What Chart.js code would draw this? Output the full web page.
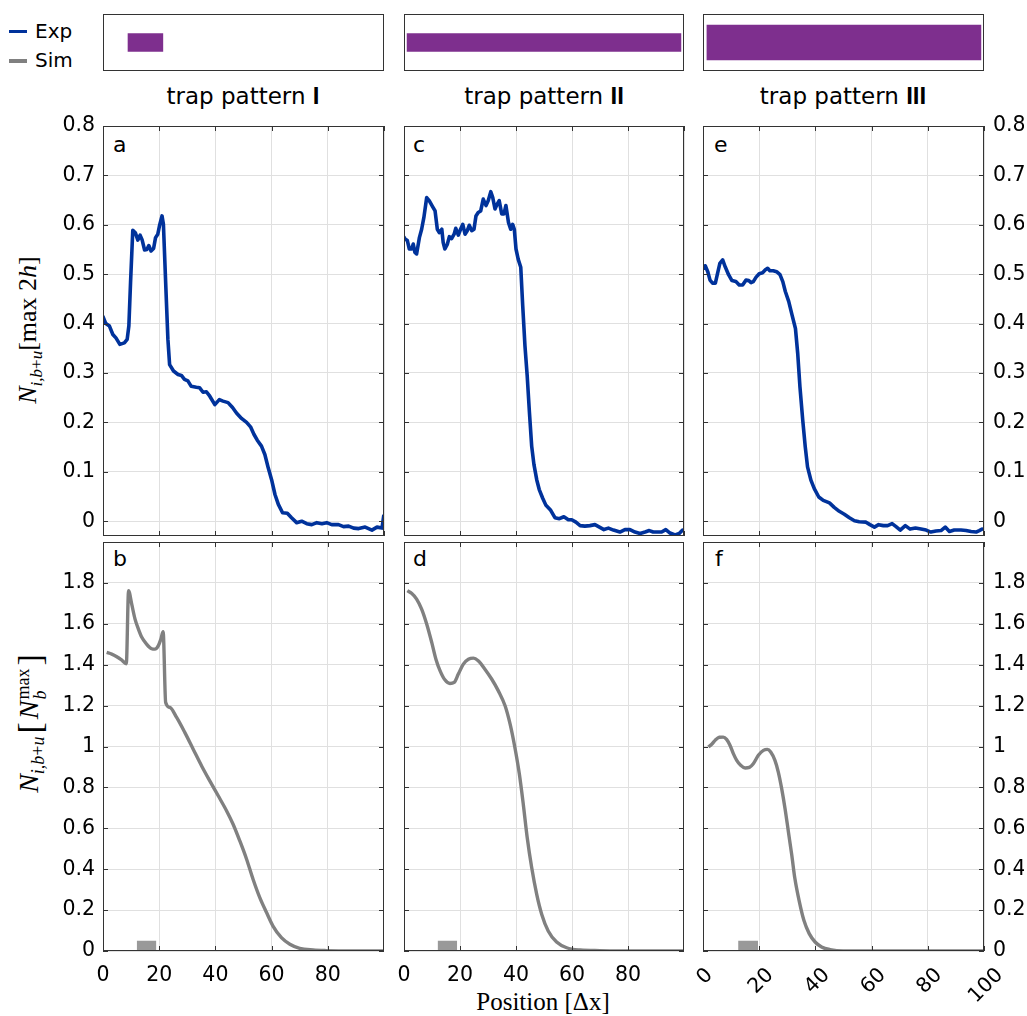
<!DOCTYPE html>
<html><head><meta charset="utf-8">
<script src="https://cdn.jsdelivr.net/npm/chart.js@4.4.1/dist/chart.umd.min.js"></script>
<style>
html,body{margin:0;padding:0;background:#fff;}
body{width:1027px;height:1016px;position:relative;overflow:hidden;font-family:"DejaVu Sans",sans-serif;color:#000;}
canvas{position:absolute;left:0;top:0;}
.t{position:absolute;white-space:nowrap;}
.ttl{position:absolute;width:300px;text-align:center;font-size:23px;line-height:30px;top:81px;}
.num{font-family:"Liberation Sans",Arial,sans-serif;font-weight:bold;font-size:24px;}
.pl{position:absolute;font-size:22px;line-height:22px;}
.leg{position:absolute;font-size:20px;line-height:24px;}
.ser{font-family:"Liberation Serif","DejaVu Serif",serif;}
.ytl{position:absolute;white-space:nowrap;transform:translate(-50%,-50%) rotate(-90deg);font-size:26px;}
.ytl sub{font-size:17px;}
.br{font-size:34px;margin:0 3px;vertical-align:-3px;}
</style></head><body>
<div class="leg" style="left:9px;top:30px;width:18px;height:3px;background:rgb(0,50,155);"></div>
<div class="leg" style="left:35px;top:19px;">Exp</div>
<div class="leg" style="left:9px;top:59px;width:18px;height:4px;background:rgb(128,128,128);"></div>
<div class="leg" style="left:35px;top:48px;">Sim</div>
<div class="ttl" style="left:93px;">trap pattern <span class="num">I</span></div>
<div class="ttl" style="left:394px;">trap pattern <span class="num">II</span></div>
<div class="ttl" style="left:693px;">trap pattern <span class="num">III</span></div>
<div class="pl" style="left:113px;top:134px;">a</div>
<div class="pl" style="left:113px;top:548px;">b</div>
<div class="pl" style="left:413px;top:134px;">c</div>
<div class="pl" style="left:413px;top:548px;">d</div>
<div class="pl" style="left:714px;top:134px;">e</div>
<div class="pl" style="left:715px;top:548px;">f</div>
<div class="ytl ser" style="left:30px;top:330px;"><i>N</i><sub><i>i,b</i>+<i>u</i></sub>[max 2<i>h</i>]</div>
<div class="ytl ser" style="left:30px;top:722px;font-size:28px;"><i>N</i><sub style="font-size:18px;"><i>i,b</i>+<i>u</i></sub><span class="br">[</span><i>N</i><span style="display:inline-block;vertical-align:middle;line-height:17px;font-size:18px;text-align:left;margin-left:1px;"><span style="display:block;">max</span><span style="display:block;"><i>b</i></span></span><span class="br">]</span></div>
<div class="t ser" style="left:543px;top:988px;transform:translateX(-50%);font-size:25px;line-height:28px;">Position [Δx]</div>
<script>
// ---------- data ----------
const xTicksAll = [0, 20, 40, 60, 80, 100];
const xTicksLabeled = [0, 20, 40, 60, 80];
const yTicksExp = [0, 0.1, 0.2, 0.3, 0.4, 0.5, 0.6, 0.7, 0.8];
const yTicksSim = [0, 0.2, 0.4, 0.6, 0.8, 1, 1.2, 1.4, 1.6, 1.8];

const trapStart = [8.9, 1.1, 1.4];
const trapEnd = [21.3, 98.9, 98.9];

const expA = [[0,0.414],[1,0.400],[2.3,0.395],[3.5,0.378],[4.6,0.371],[6,0.358],[7.6,0.361],[8.6,0.368],[9.2,0.395],[9.8,0.483],[10.6,0.589],[11.5,0.584],[12.4,0.569],[13.2,0.579],[13.9,0.570],[14.8,0.549],[15.6,0.550],[16.3,0.558],[17.1,0.547],[18,0.552],[18.7,0.574],[19.5,0.581],[20.1,0.598],[21,0.618],[21.5,0.601],[22.3,0.483],[23.1,0.368],[23.7,0.317],[25.1,0.304],[26.7,0.297],[27.9,0.295],[29,0.287],[30.2,0.284],[31.4,0.273],[33.2,0.271],[34.4,0.270],[35.6,0.261],[36.8,0.262],[38,0.253],[39.8,0.236],[41.4,0.246],[42.7,0.243],[44.5,0.240],[46.1,0.230],[47.5,0.219],[49.3,0.208],[51.1,0.200],[52.5,0.191],[53.7,0.176],[54.9,0.164],[56.4,0.152],[57.6,0.135],[58.8,0.108],[60,0.084],[61.2,0.054],[62.4,0.034],[63.9,0.017],[65.6,0.016],[67.1,0.007],[68.9,-0.003],[70.7,0.000],[72.5,-0.005],[74.3,-0.007],[76.1,-0.003],[77.9,-0.005],[79.6,-0.003],[81.4,-0.007],[83.8,-0.007],[85.6,-0.011],[87.4,-0.010],[89.2,-0.014],[91,-0.015],[93.3,-0.012],[95.7,-0.018],[97.5,-0.012],[99.3,-0.014],[99.9,0.011]];

const expC = [[0,0.575],[0.4,0.571],[1.2,0.568],[1.9,0.551],[2.7,0.551],[3.3,0.561],[3.9,0.544],[4.5,0.541],[5.5,0.574],[6.3,0.591],[7.1,0.615],[8.1,0.655],[9,0.649],[10.2,0.637],[11.1,0.628],[11.9,0.591],[12.6,0.584],[13.5,0.591],[14,0.564],[14.6,0.551],[15.5,0.561],[16.2,0.576],[17,0.572],[17.9,0.581],[18.5,0.593],[19.4,0.579],[20.2,0.591],[21,0.601],[21.8,0.581],[22.6,0.588],[23.3,0.599],[24.2,0.588],[25,0.591],[25.7,0.618],[26.5,0.625],[27.4,0.628],[28.3,0.652],[29.3,0.639],[30.1,0.649],[31,0.667],[31.7,0.655],[32.5,0.632],[33.3,0.642],[34,0.649],[34.9,0.622],[35.7,0.622],[36.4,0.639],[37.3,0.605],[38.1,0.591],[38.8,0.601],[39.4,0.591],[40,0.551],[40.8,0.530],[41.7,0.514],[42.4,0.436],[43.2,0.355],[44,0.294],[44.8,0.220],[45.6,0.152],[46.4,0.115],[47.4,0.084],[48.3,0.064],[49.5,0.047],[50.7,0.032],[52.4,0.022],[53.9,0.007],[55.5,0.005],[57.1,0.009],[58.7,0.003],[59.9,0.003],[61.4,-0.002],[62.9,-0.009],[64.6,-0.010],[66.4,-0.009],[68.2,-0.007],[69.8,-0.012],[71.4,-0.017],[73,-0.014],[74.8,-0.018],[77.1,-0.022],[78.9,-0.017],[80.7,-0.017],[82.5,-0.022],[84.3,-0.025],[86.1,-0.022],[87.6,-0.019],[89,-0.022],[90.8,-0.022],[92,-0.022],[93.5,-0.017],[95,-0.024],[96.8,-0.028],[98.3,-0.025],[99.5,-0.018]];

const expE = [[0.5,0.512],[0.8,0.517],[1.7,0.505],[2.5,0.488],[3.4,0.482],[4.4,0.482],[5.2,0.502],[6,0.522],[7,0.529],[7.9,0.515],[9.1,0.499],[10.3,0.487],[11.7,0.485],[12.9,0.478],[14.1,0.478],[15.3,0.488],[16.3,0.487],[17.1,0.483],[17.9,0.485],[18.9,0.494],[20,0.501],[21.2,0.503],[22.2,0.509],[23,0.512],[23.8,0.507],[25,0.507],[26.2,0.505],[27.4,0.499],[28.4,0.485],[29.3,0.465],[30.5,0.445],[31.7,0.417],[32.9,0.390],[33.7,0.340],[34.5,0.272],[35.5,0.204],[36.4,0.150],[37.2,0.110],[38.4,0.083],[39.6,0.066],[41.2,0.049],[42.8,0.042],[45,0.037],[46.7,0.028],[48.5,0.020],[50.3,0.014],[52.1,0.007],[53.9,0.001],[55.6,-0.001],[58,-0.002],[59.4,-0.007],[61,-0.012],[62.5,-0.007],[64.2,-0.009],[65.7,-0.009],[67.3,-0.005],[68.7,-0.011],[70.2,-0.018],[72,-0.009],[73.7,-0.016],[75.6,-0.014],[77.6,-0.016],[79.4,-0.018],[81.1,-0.022],[82.9,-0.020],[84.7,-0.019],[86.2,-0.012],[87.7,-0.021],[89.4,-0.018],[91.8,-0.018],[93.6,-0.019],[95.4,-0.021],[97.2,-0.022],[98.3,-0.019],[99.3,-0.016]];

const simB = [[1.3,1.460],[3.1,1.452],[4.9,1.439],[6.6,1.423],[8.3,1.405],[9.1,1.762],[10.2,1.697],[11.4,1.623],[12.6,1.574],[13.7,1.537],[15.5,1.501],[17.3,1.478],[18.5,1.476],[19.7,1.493],[20.6,1.525],[21.4,1.561],[22.3,1.215],[23.8,1.191],[26.2,1.142],[29.1,1.069],[32.1,0.987],[35.1,0.905],[38,0.832],[41,0.759],[44,0.685],[46.3,0.620],[48.7,0.538],[51.1,0.449],[53.4,0.351],[55.8,0.261],[58.2,0.188],[60.5,0.122],[63.5,0.065],[66.5,0.033],[70,0.013],[74.8,0.005],[79.5,0.002],[87.8,0.0],[99.8,0.0]];

const simD = [[1.2,1.762],[2.7,1.749],[4.5,1.721],[6.3,1.672],[8.1,1.599],[9.9,1.509],[11.4,1.427],[12.9,1.370],[14.6,1.326],[16.4,1.308],[17.9,1.313],[19.4,1.354],[21.2,1.403],[23,1.427],[24.8,1.432],[26.5,1.419],[28.9,1.378],[31.3,1.330],[33.7,1.272],[36.1,1.199],[37.9,1.109],[39.6,0.995],[41.2,0.865],[42.6,0.718],[44,0.555],[45.6,0.408],[47.4,0.277],[49.2,0.179],[51.5,0.098],[54.5,0.044],[58.1,0.016],[62.9,0.005],[70,0.002],[81.9,0.0],[99.8,0.0]];

const simF = [[1.9,0.998],[3.1,1.011],[4.3,1.030],[5.8,1.045],[7.2,1.046],[8.4,1.035],[9.6,1.006],[10.8,0.965],[12,0.932],[13.4,0.908],[15,0.895],[16.5,0.898],[17.9,0.916],[19.7,0.957],[21.5,0.981],[22.9,0.986],[24.1,0.973],[25.6,0.932],[26.8,0.875],[28,0.794],[29.2,0.696],[30.4,0.582],[31.6,0.468],[32.7,0.354],[34.3,0.240],[35.9,0.150],[37.8,0.085],[39.9,0.044],[42.2,0.020],[45.2,0.007],[49.9,0.0],[60.6,0.0],[99.8,0.0]];

const markerB = [[12,0],[12,0.05],[19,0.05],[19,0]];
const markerD = [[12,0],[12,0.05],[19,0.05],[19,0]];
const markerF = [[12.5,0],[12.5,0.05],[19.6,0.05],[19.6,0]];

// ---------- styles ----------
const W = 1027, H = 1016;
const BLUE = 'rgb(0,50,155)', GRAY = 'rgb(128,128,128)', PURPLE = 'rgb(126,47,142)', MARK = 'rgb(153,153,153)';
const GRID = '#e0e0e0', FRAME = '#333';
const TICKFONT = {family: '"DejaVu Sans", sans-serif', size: 20.5};
const fmt = v => String(Math.round(v * 100) / 100);
const Y_AXIS_W = 60, Y_AXIS_W_R = 40, X_AXIS_H = 45;

const framePlugin = {
  id: 'frame',
  afterDraw(chart, args, opts) {
    const ctx = chart.ctx, a = chart.chartArea;
    ctx.save();
    ctx.strokeStyle = FRAME; ctx.lineWidth = 1;
    if (opts.ticks) {
      const xs = chart.scales.x, ys = chart.scales.y;
      ctx.beginPath();
      xs.ticks.forEach(t => {
        const p = Math.round(xs.getPixelForValue(t.value)) + 0.5;
        ctx.moveTo(p, a.bottom); ctx.lineTo(p, a.bottom - 5);
        ctx.moveTo(p, a.top); ctx.lineTo(p, a.top + 5);
      });
      ys.ticks.forEach(t => {
        const p = Math.round(ys.getPixelForValue(t.value)) + 0.5;
        ctx.moveTo(a.left, p); ctx.lineTo(a.left + 5, p);
        ctx.moveTo(a.right, p); ctx.lineTo(a.right - 5, p);
      });
      ctx.stroke();
    }
    ctx.strokeRect(Math.round(a.left) + 0.5, Math.round(a.top) + 0.5, Math.round(a.width) - 1, Math.round(a.height) - 1);
    ctx.restore();
  }
};

const rotLabelPlugin = {
  id: 'rotLabels',
  afterDraw(chart, args, opts) {
    if (!opts.on) return;
    const ctx = chart.ctx, a = chart.chartArea, xs = chart.scales.x;
    ctx.save();
    ctx.font = TICKFONT.size + 'px ' + TICKFONT.family;
    ctx.fillStyle = '#000'; ctx.textAlign = 'center'; ctx.textBaseline = 'middle';
    xs.ticks.forEach(t => {
      const lab = fmt(t.value);
      const w = ctx.measureText(lab).width, h = 14;
      const cx = xs.getPixelForValue(t.value) + 2;
      const cy = a.bottom + 16 + (w + h) / (2 * Math.SQRT2);
      ctx.save(); ctx.translate(cx, cy); ctx.rotate(-Math.PI / 4);
      ctx.fillText(lab, 0, 0); ctx.restore();
    });
    ctx.restore();
  }
};

function makeCanvas() {
  const c = document.createElement('canvas');
  c.width = W; c.height = H;
  c.style.width = W + 'px'; c.style.height = H + 'px';
  document.body.appendChild(c);
  return c;
}

function panel(rect, datasets, cfg) {
  const c = makeCanvas();
  const yW = cfg.yLabels ? (cfg.yPos === 'right' ? Y_AXIS_W_R : Y_AXIS_W) : 0;
  const xH = cfg.xLabels ? X_AXIS_H : 0;
  const pad = {
    left: rect.l - (cfg.yPos === 'left' ? yW : 0),
    right: W - rect.r - (cfg.yPos === 'right' ? yW : 0),
    top: rect.t,
    bottom: H - rect.b - xH
  };
  new Chart(c, {
    type: 'line',
    data: {datasets},
    plugins: [framePlugin, rotLabelPlugin],
    options: {
      responsive: false, animation: false, devicePixelRatio: 1,
      events: [],
      layout: {padding: pad},
      plugins: {legend: {display: false}, tooltip: {enabled: false},
        frame: {ticks: true}, rotLabels: {on: !!cfg.rotX}},
      elements: {point: {radius: 0}},
      scales: {
        x: {type: 'linear', min: 0, max: 100,
          afterBuildTicks: s => { s.ticks = cfg.xTicks.map(v => ({value: v})); },
          afterFit: s => { s.height = xH; },
          grid: {color: GRID, drawTicks: false, lineWidth: 1},
          border: {display: false},
          ticks: {display: !!cfg.xLabels, padding: 12, font: TICKFONT, color: '#000',
            maxRotation: 0, minRotation: 0, autoSkip: false, callback: v => fmt(v)}},
        y: {type: 'linear', position: cfg.yPos, min: cfg.yMin, max: cfg.yMax,
          afterBuildTicks: s => { s.ticks = cfg.yTicks.map(v => ({value: v})); },
          afterFit: s => { s.width = yW; },
          grid: {color: GRID, drawTicks: false, lineWidth: 1},
          border: {display: false},
          ticks: {display: !!cfg.yLabels, padding: cfg.yPos === 'right' ? 9 : 8, font: TICKFONT, color: '#000',
            autoSkip: false, callback: v => fmt(v)}}
      }
    }
  });
}

function expSet(d) {
  return {data: d, borderColor: BLUE, borderWidth: 3.6, tension: 0, fill: false,
    borderJoinStyle: 'round', borderCapStyle: 'round'};
}
function simSet(d) {
  return {data: d, borderColor: GRAY, borderWidth: 3.4, cubicInterpolationMode: 'monotone', fill: false,
    borderJoinStyle: 'round'};
}
function markSet(d) {
  return {data: d, borderWidth: 0, borderColor: MARK, backgroundColor: MARK, fill: 'origin', tension: 0};
}

const colsX = [{l: 103, r: 384}, {l: 404, r: 684}, {l: 703, r: 984}];
const topRow = {t: 126, b: 536}, botRow = {t: 542, b: 951};
const R = (i, row) => ({l: colsX[i].l, r: colsX[i].r, t: row.t, b: row.b});

panel(R(0, topRow), [expSet(expA)], {xTicks: xTicksAll, yTicks: yTicksExp, yMin: -0.03, yMax: 0.8, yPos: 'left', yLabels: true});
panel(R(1, topRow), [expSet(expC)], {xTicks: xTicksAll, yTicks: yTicksExp, yMin: -0.03, yMax: 0.8, yPos: 'left', yLabels: false});
panel(R(2, topRow), [expSet(expE)], {xTicks: xTicksAll, yTicks: yTicksExp, yMin: -0.03, yMax: 0.8, yPos: 'right', yLabels: true});
panel(R(0, botRow), [markSet(markerB), simSet(simB)], {xTicks: xTicksLabeled, xLabels: true, yTicks: yTicksSim, yMin: 0, yMax: 2, yPos: 'left', yLabels: true});
panel(R(1, botRow), [markSet(markerD), simSet(simD)], {xTicks: xTicksLabeled, xLabels: true, yTicks: yTicksSim, yMin: 0, yMax: 2, yPos: 'left', yLabels: false});
panel(R(2, botRow), [markSet(markerF), simSet(simF)], {xTicks: xTicksAll, rotX: true, yTicks: yTicksSim, yMin: 0, yMax: 2, yPos: 'right', yLabels: true});

// trap pattern boxes
const thick = [18, 18, 35];
for (let i = 0; i < 3; i++) {
  const c = makeCanvas();
  new Chart(c, {
    type: 'bar',
    data: {labels: ['trap'], datasets: [{data: [[trapStart[i], trapEnd[i]]], backgroundColor: PURPLE,
      borderWidth: 0, barThickness: thick[i]}]},
    plugins: [framePlugin],
    options: {
      indexAxis: 'y', responsive: false, animation: false, devicePixelRatio: 1, events: [],
      layout: {padding: {left: colsX[i].l, right: W - colsX[i].r, top: 14, bottom: H - 71}},
      plugins: {legend: {display: false}, tooltip: {enabled: false}, frame: {ticks: false}},
      scales: {x: {type: 'linear', min: 0, max: 100, display: false}, y: {display: false}}
    }
  });
}
</script>
</body></html>
